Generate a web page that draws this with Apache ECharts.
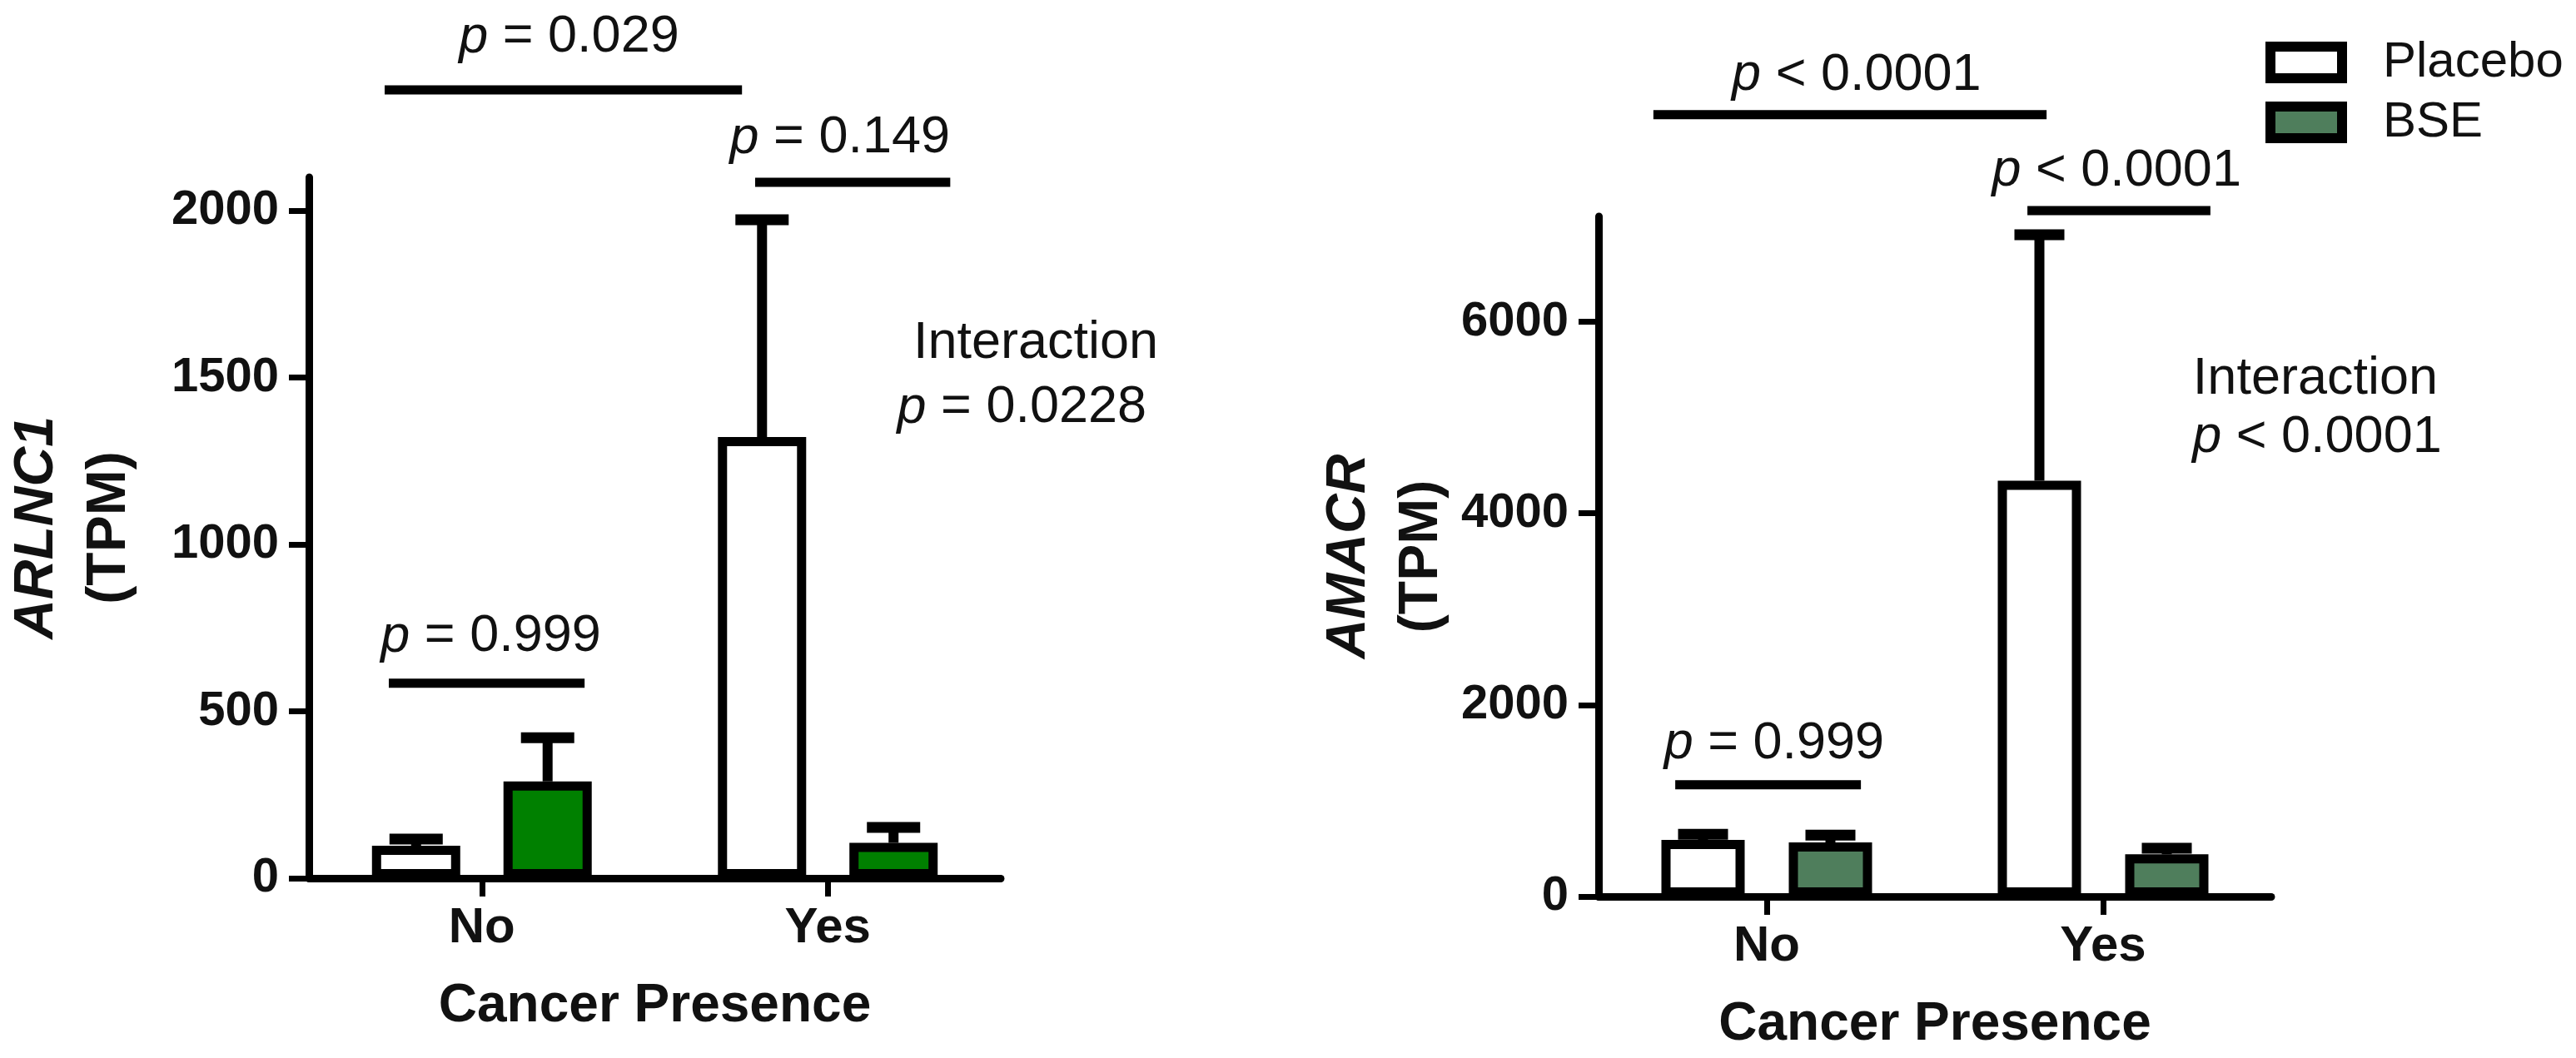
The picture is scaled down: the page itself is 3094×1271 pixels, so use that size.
<!DOCTYPE html>
<html><head><meta charset="utf-8">
<script src="https://cdn.jsdelivr.net/npm/echarts@6/dist/echarts.min.js"></script>
<style>html,body{margin:0;padding:0;background:#fff}#c{width:3094px;height:1271px}</style>
</head><body><div id="c"></div>
<script>
// ---------------- data ----------------
const categories = ['No', 'Yes'];
const seriesNames = ['Placebo', 'BSE'];

const arlnc1Placebo = [97, 1322];
const arlnc1PlaceboUpper = [117, 1973];
const arlnc1BSE = [290, 106];
const arlnc1BSEUpper = [421, 152];

const amacrPlacebo = [590, 4340];
const amacrPlaceboUpper = [650, 6908];
const amacrBSE = [565, 440];
const amacrBSEUpper = [640, 505];

const arlnc1Ticks = [0, 500, 1000, 1500, 2000];
const amacrTicks = [0, 2000, 4000, 6000];

const arlnc1PValues = ['= 0.029', '= 0.149', '= 0.999'];
const arlnc1Interaction = '= 0.0228';
const amacrPValues = ['< 0.0001', '< 0.0001', '= 0.999'];
const amacrInteraction = '< 0.0001';

// ---------------- layout / style ----------------
const FONT = "'Liberation Sans', Arial, Helvetica, sans-serif";
const BORDER = 11;
const L = { left: 354, top: 213, width: 848, height: 842, max: 2100, interval: 500, barWidth: 106, gap: 0.49, cap: 64, green: '#008000' };
const R = { left: 1920, top: 260, width: 808, height: 817, max: 7100, interval: 2000, barWidth: 100, gap: 0.53, cap: 60, green: '#4f7e5c' };

// annotation placement in axis units (x: category units, y: value units)
const leftBrackets = [[-0.281, 0.752, 2362], [0.790, 1.354, 2085], [-0.269, 0.297, 584]];
const leftBracketText = [[0.252, 2519], [1.035, 2217], [0.026, 723]];
const leftInter = [[1.601, 1603], [1.561, 1409]];
const rightBrackets = [[-0.337, 0.832, 8162], [0.775, 1.319, 7160], [-0.272, 0.280, 1167]];
const rightBracketText = [[0.267, 8571], [1.040, 7570], [0.022, 1594]];
const rightInter = [[1.631, 5401], [1.636, 4791]];

const chart = echarts.init(document.getElementById('c'), null, { renderer: 'canvas' });

function yAxisCfg(grid, cfg, ticks, gene, nameGap) {
  return {
    type: 'value', gridIndex: grid, min: 0, max: cfg.max, interval: cfg.interval,
    axisLine: { show: true, onZero: false, lineStyle: { color: '#000', width: 9 } },
    axisTick: { show: true, length: 24, lineStyle: { color: '#000', width: 7 }, customValues: ticks },
    axisLabel: { fontSize: 58, fontWeight: 'bold', color: '#111', margin: 36, fontFamily: FONT,
      customValues: ticks, formatter: v => String(v) },
    splitLine: { show: false },
    name: '{a|' + gene + '}\n{b|(TPM)}',
    nameLocation: 'middle', nameRotate: 90, nameGap: nameGap,
    nameTextStyle: {
      lineHeight: 87,
      rich: {
        a: { fontSize: 66, fontWeight: 'bold', fontStyle: 'italic', fontFamily: FONT, color: '#111', lineHeight: 87 },
        b: { fontSize: 66, fontWeight: 'bold', fontFamily: FONT, color: '#111', lineHeight: 87 }
      }
    }
  };
}
function xAxisCfg(grid) {
  return {
    type: 'category', gridIndex: grid, data: categories,
    axisLine: { show: true, onZero: false, lineStyle: { color: '#000', width: 9 } },
    axisTick: { show: true, alignWithLabel: true, length: 22, lineStyle: { color: '#000', width: 7 } },
    axisLabel: { fontSize: 60, fontWeight: 'bold', color: '#111', margin: 30, fontFamily: FONT },
    name: 'Cancer Presence', nameLocation: 'middle', nameGap: 122,
    nameTextStyle: { fontSize: 64, fontWeight: 'bold', color: '#111', fontFamily: FONT }
  };
}
function hiddenX(grid) {
  return { type: 'value', gridIndex: grid, min: -0.5, max: 1.5, show: false,
    axisLine: { show: false, onZero: false }, splitLine: { show: false } };
}
function barSeries(name, data, xi, yi, cfg, fill) {
  return {
    type: 'bar', name: name, xAxisIndex: xi, yAxisIndex: yi, data: data, z: 3,
    barWidth: cfg.barWidth, barGap: (cfg.gap * 100) + '%',
    itemStyle: { color: fill, borderColor: '#000', borderWidth: BORDER }
  };
}
function errSeries(vals, uppers, xi, yi, cfg, sign) {
  return {
    type: 'custom', xAxisIndex: xi, yAxisIndex: yi, z: 2, silent: true,
    data: vals.map((v, i) => [i, v, uppers[i]]),
    encode: { x: 0, y: [1, 2] },
    renderItem: function (params, api) {
      const base = api.coord([api.value(0), api.value(1)]);
      const top = api.coord([api.value(0), api.value(2)]);
      const x = base[0] + sign * cfg.barWidth * (1 + cfg.gap) / 2;
      return {
        type: 'group', children: [
          { type: 'line', shape: { x1: x, y1: base[1], x2: x, y2: top[1] }, style: { stroke: '#000', lineWidth: 12 } },
          { type: 'line', shape: { x1: x - cfg.cap / 2, y1: top[1], x2: x + cfg.cap / 2, y2: top[1] }, style: { stroke: '#000', lineWidth: 13 } }
        ]
      };
    }
  };
}
function bracketSeries(pos, xi, yi) {
  return {
    type: 'custom', xAxisIndex: xi, yAxisIndex: yi, silent: true, clip: false,
    data: pos, encode: { x: [0, 1], y: 2 },
    renderItem: function (params, api) {
      const a = api.coord([api.value(0), api.value(2)]);
      const b = api.coord([api.value(1), api.value(2)]);
      return { type: 'line', shape: { x1: a[0], y1: a[1], x2: b[0], y2: b[1] }, style: { stroke: '#000', lineWidth: 11 } };
    }
  };
}
function textSeries(pos, texts, xi, yi) {
  return {
    type: 'custom', xAxisIndex: xi, yAxisIndex: yi, silent: true, clip: false,
    data: pos, encode: { x: 0, y: 1 },
    renderItem: function (params, api) {
      const p = api.coord([api.value(0), api.value(1)]);
      return {
        type: 'text', x: p[0], y: p[1],
        style: {
          text: texts[params.dataIndex], fill: '#111', fontSize: 63, fontFamily: FONT,
          align: 'center', verticalAlign: 'middle',
          rich: { i: { fontStyle: 'italic', fontSize: 63, fontFamily: FONT, fill: '#111' } }
        }
      };
    }
  };
}

const leftTexts = arlnc1PValues.map(s => '{i|p} ' + s);
const rightTexts = amacrPValues.map(s => '{i|p} ' + s);

chart.setOption({
  animation: false,
  backgroundColor: '#fff',
  grid: [
    { left: L.left, top: L.top, width: L.width, height: L.height },
    { left: R.left, top: R.top, width: R.width, height: R.height }
  ],
  xAxis: [xAxisCfg(0), xAxisCfg(1), hiddenX(0), hiddenX(1)],
  yAxis: [yAxisCfg(0, L, arlnc1Ticks, 'ARLNC1', 196), yAxisCfg(1, R, amacrTicks, 'AMACR', 164)],
  legend: {
    orient: 'vertical', left: 2716, top: 40, itemWidth: 86, itemHeight: 38, itemGap: 12, icon: 'rect',
    textStyle: { fontSize: 60, fontFamily: FONT, color: '#111', padding: [0, 0, 0, 44] },
    data: [
      { name: seriesNames[0], itemStyle: { color: '#fff', borderColor: '#000', borderWidth: 12 } },
      { name: seriesNames[1], itemStyle: { color: R.green, borderColor: '#000', borderWidth: 12 } }
    ]
  },
  series: [
    barSeries(seriesNames[0], arlnc1Placebo, 0, 0, L, '#fff'),
    barSeries(seriesNames[1], arlnc1BSE, 0, 0, L, L.green),
    barSeries(seriesNames[0], amacrPlacebo, 1, 1, R, '#fff'),
    barSeries(seriesNames[1], amacrBSE, 1, 1, R, R.green),
    errSeries(arlnc1Placebo, arlnc1PlaceboUpper, 0, 0, L, -1),
    errSeries(arlnc1BSE, arlnc1BSEUpper, 0, 0, L, 1),
    errSeries(amacrPlacebo, amacrPlaceboUpper, 1, 1, R, -1),
    errSeries(amacrBSE, amacrBSEUpper, 1, 1, R, 1),
    bracketSeries(leftBrackets, 2, 0),
    bracketSeries(rightBrackets, 3, 1),
    textSeries(leftBracketText, leftTexts, 2, 0),
    textSeries(rightBracketText, rightTexts, 3, 1),
    textSeries(leftInter, ['Interaction', '{i|p} ' + arlnc1Interaction], 2, 0),
    textSeries(rightInter, ['Interaction', '{i|p} ' + amacrInteraction], 3, 1)
  ]
});
</script></body></html>
